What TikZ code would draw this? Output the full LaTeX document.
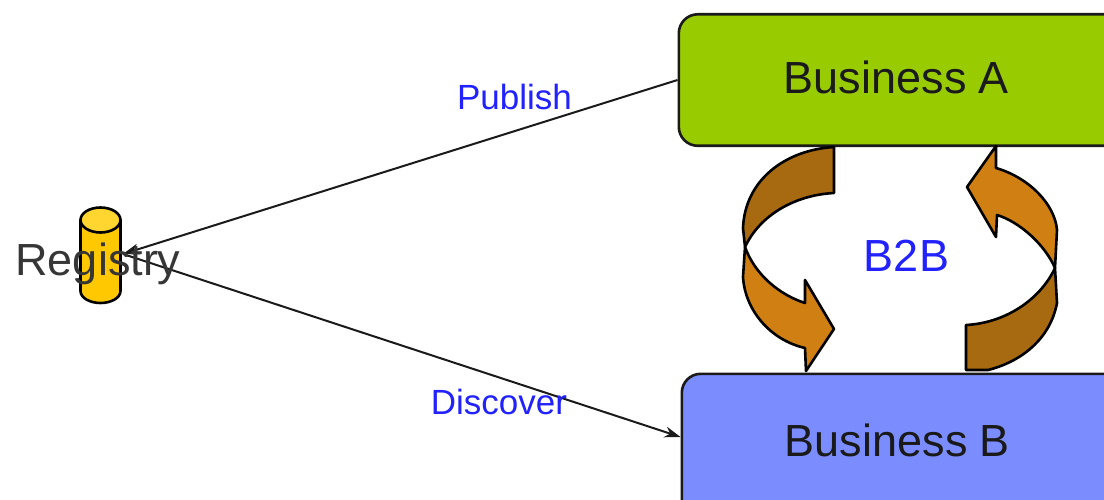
\documentclass[tikz,border=0pt]{standalone}
\usepackage{fontspec}
\setmainfont{Liberation Sans}
\usetikzlibrary{arrows.meta}
\definecolor{bizgreen}{HTML}{99CC00}
\definecolor{bizblue}{HTML}{7B8CFF}
\definecolor{lightband}{HTML}{D08012}
\definecolor{darkband}{HTML}{A86A10}
\definecolor{dbbody}{HTML}{FFC800}
\definecolor{dbtop}{HTML}{FFD530}
\definecolor{labelblue}{HTML}{2222FF}
\definecolor{ink}{HTML}{1A1A1A}
\tikzset{
  bizbox/.style={draw=ink,line width=2.6pt,rounded corners=19pt,anchor=north west,inner sep=0pt},
  bizlabel/.style={font=\fontsize{45}{45}\selectfont,text=ink,inner sep=0pt},
  bluelabel/.style={font=\fontsize{35}{35}\selectfont,text=labelblue,inner sep=0pt},
  link/.style={draw=ink,line width=2pt,-{Stealth[length=16pt,width=11pt]}},
  band/.style={draw=black,line width=2.6pt,line join=round},
  dbshape/.style={draw=black,line width=2.6pt,line join=round}
}
\begin{document}
\begin{tikzpicture}[x=1pt,y=-1pt]
\useasboundingbox (0,0) rectangle (1104,500);
\fill[white] (0,0) rectangle (1104,500);
\clip (0,0) rectangle (1104,500);
% Business boxes
\node[bizbox,fill=bizgreen,minimum width=450pt,minimum height=131.5pt] (a) at (677.5,13) {};
\node[bizbox,fill=bizblue,minimum width=450pt,minimum height=150pt] (b) at (680.5,372.5) {};
\node[bizlabel] (atext) at (896.5,77.5) {Business A};
\node[bizlabel] (btext) at (897.5,440) {Business B};
% Registry cylinder
\path[dbshape,fill=dbbody] (80.5,220) -- (80.5,291) .. controls (80.5,298) and (90,303) .. (100.5,303)
  .. controls (111,303) and (120.5,298) .. (120.5,291) -- (120.5,220) -- cycle;
\draw[dbshape,fill=dbtop] (100.5,220) ellipse[x radius=20,y radius=12.5];
\node[minimum width=41pt,minimum height=96pt,inner sep=0pt] (reg) at (100.5,255) {};
\coordinate (regin) at (123,254);
% Connectors
\draw[link] (a.west |- 0,80) -- (regin);
\draw[link] (regin) -- (b.west |- 0,437);
\node[bizlabel,text=ink!88] (regtext) at (98,264) {Registry};
% Labels
\node[bluelabel] (pub) at (514.5,97) {Publish};
\node[bluelabel] (disc) at (499,402) {Discover};
\node[bizlabel,text=labelblue] (b2b) at (906.5,256) {B2B};
% Left curved arrow
\path[band,fill=darkband] (834,147) .. controls (785,150) and (745,180) .. (743,228)
  -- (745,247) .. controls (760,215) and (795,195) .. (834,193) -- cycle;
\path[band,fill=lightband] (745,247) .. controls (755,275) and (780,295) .. (805,303)
  -- (805,280) -- (834,329) -- (806,371) -- (805,348)
  .. controls (770,340) and (745,310) .. (743,277) -- cycle;
% Right curved arrow
\path[band,fill=lightband] (996,146) -- (996,168) .. controls (1030,178) and (1055,205) .. (1057,230)
  -- (1055,268) .. controls (1045,245) and (1020,222) .. (997,215)
  -- (996,237) -- (967,187) -- cycle;
\path[band,fill=darkband] (1055,268) -- (1057,303) .. controls (1050,340) and (1020,362) .. (988,370)
  -- (966,370) -- (966,325) .. controls (1005,323) and (1040,300) .. (1055,268) -- cycle;
\end{tikzpicture}
\end{document}
